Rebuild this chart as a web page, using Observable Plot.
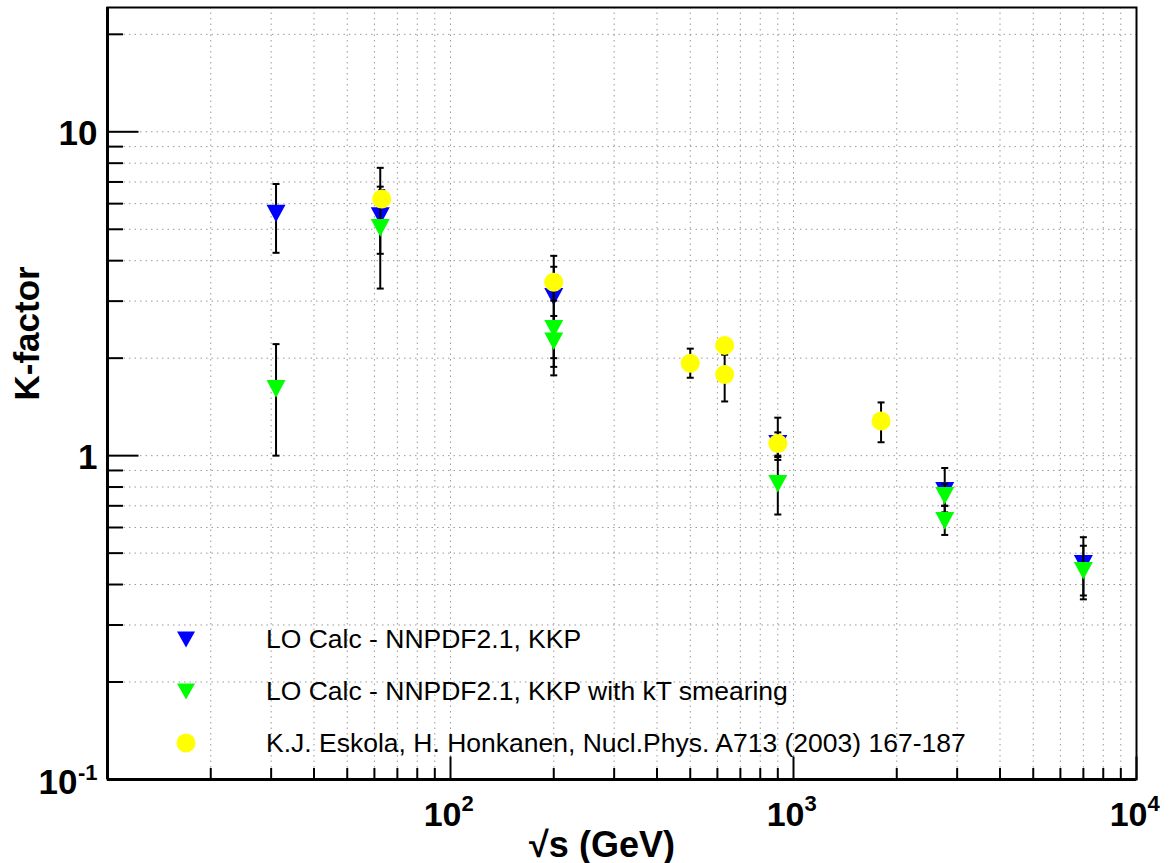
<!DOCTYPE html>
<html><head><meta charset="utf-8">
<script src="https://cdn.jsdelivr.net/npm/d3@7"></script>
<script src="https://cdn.jsdelivr.net/npm/@observablehq/plot@0.6"></script>
<style>
body{margin:0;background:#fff;}
#wrap{position:relative;width:1174px;height:863px;}
.row{position:absolute;display:flex;align-items:center;white-space:nowrap;font-family:"Liberation Sans",Arial,sans-serif;font-size:26.5px;color:#000;height:30px;}
.row svg{flex:none}
</style></head>
<body><div id="wrap"></div>
<script>
// ---- data ----
// LO Calc - NNPDF2.1, KKP
const blueX  = [31, 62.4, 200, 900, 2760, 7000];
const blueK  = [5.6, 5.5, 3.1, 1.09, 0.78, 0.464];
const blueLo = [4.23, 4.2, 2.0, 0.97, 0.668, 0.37];
const blueHi = [6.9, 6.77, 4.14, 1.31, 0.916, 0.56];
// LO Calc - NNPDF2.1, KKP with kT smearing
const greenX  = [31, 62.4, 200, 200, 900, 2760, 2760, 7000];
const greenK  = [1.61, 5.06, 2.47, 2.26, 0.82, 0.753, 0.63, 0.442];
const greenLo = [1.0, 3.28, 1.88, 1.77, 0.658, 0.70, 0.569, 0.36];
const greenHi = [2.21, 7.74, 3.83, 2.7, 0.99, 0.818, 0.70, 0.527];
// K.J. Eskola, H. Honkanen
const yellowX  = [63, 200, 500, 630, 630, 900, 1800];
const yellowK  = [6.2, 3.43, 1.93, 2.19, 1.78, 1.09, 1.28];
const yellowLo = [5.9, 3.01, 1.74, 2.1, 1.47, 1.0, 1.10];
const yellowHi = [6.6, 3.4, 2.14, 2.28, 2.05, 1.18, 1.46];

const seriesNames = [
  "LO Calc - NNPDF2.1, KKP",
  "LO Calc - NNPDF2.1, KKP with kT smearing",
  "K.J. Eskola, H. Honkanen, Nucl.Phys. A713 (2003) 167-187"
];
const seriesColors = ["#0000ff", "#00ff00", "#ffff00"];

// axes
const xDomain = [10, 10000];
const yDomain = [0.1, 24.2];
const xMajor = [100, 1000, 10000];
const xMajorBase = ["10", "10", "10"];
const xMajorExp = ["2", "3", "4"];
const xMinor = [20,30,40,50,60,70,80,90,200,300,400,500,600,700,800,900,2000,3000,4000,5000,6000,7000,8000,9000];
const yMajor = [0.1, 1, 10];
const yMajorBase = ["10", "1", "10"];
const yMajorExp = ["-1", "", ""];
const yMinor = [0.2,0.3,0.4,0.5,0.6,0.7,0.8,0.9,2,3,4,5,6,7,8,9,20];
const xTitle = "√s (GeV)";
const yTitle = "K-factor";

// ---- helpers ----
const rows = (X, K, Lo, Hi) => X.map((x, i) => ({x, k: K[i], lo: Lo[i], hi: Hi[i]}));
const blue = rows(blueX, blueK, blueLo, blueHi);
const green = rows(greenX, greenK, greenLo, greenHi);
const yellow = rows(yellowX, yellowK, yellowLo, yellowHi);

const invTriangle = {draw(ctx, size) {
  const r = Math.sqrt(size / Math.PI);
  ctx.moveTo(-r, -r * 0.9); ctx.lineTo(r, -r * 0.9); ctx.lineTo(0, r * 0.95); ctx.closePath();
}};
const seg = (dx, dy, ox = 0, oy = 0) => ({draw(ctx) { ctx.moveTo(ox, oy); ctx.lineTo(ox + dx, oy + dy); }});
const capSym = {draw(ctx) { ctx.moveTo(-3.5, 0); ctx.lineTo(3.5, 0); }};

const font = "Liberation Sans, Arial, Helvetica, sans-serif";

function seriesMarks(data, color, symbol, r) {
  return [
    Plot.ruleX(data, {x: "x", y1: "lo", y2: "hi", stroke: "black", strokeWidth: 2}),
    Plot.dot(data, {x: "x", y: "lo", symbol: capSym, r: 3, stroke: "black", strokeWidth: 2}),
    Plot.dot(data, {x: "x", y: "hi", symbol: capSym, r: 3, stroke: "black", strokeWidth: 2}),
    Plot.dot(data, {x: "x", y: "k", symbol, r, fill: color, stroke: "none"})
  ];
}

const grid = {stroke: "#9a9a9a", strokeOpacity: 1, strokeWidth: 1, strokeDasharray: "1.5,4"};

const chart = Plot.plot({
  width: 1174, height: 863,
  marginLeft: 107, marginRight: 38, marginTop: 7, marginBottom: 84,
  x: {type: "log", domain: xDomain, axis: null},
  y: {type: "log", domain: yDomain, axis: null},
  style: {fontFamily: font, background: "white", overflow: "visible"},
  marks: [
    Plot.ruleX(xMinor.concat(xMajor), grid),
    Plot.ruleY(yMinor.concat(yMajor), grid),
    Plot.frame({stroke: "black", strokeWidth: 2}),
    Plot.ruleX([xDomain[0]], {stroke: "black", strokeWidth: 3}),
    Plot.ruleY([yDomain[0]], {stroke: "black", strokeWidth: 3}),
    // ticks (inward)
    Plot.dot(xMinor, {x: d => d, frameAnchor: "bottom", symbol: seg(0, -11.5), r: 3, stroke: "black", strokeWidth: 2}),
    Plot.dot(xMajor, {x: d => d, frameAnchor: "bottom", symbol: seg(0, -23), r: 3, stroke: "black", strokeWidth: 2}),
    Plot.dot(yMinor, {y: d => d, frameAnchor: "left", symbol: seg(15.5, 0), r: 3, stroke: "black", strokeWidth: 2}),
    Plot.dot(yMajor, {y: d => d, frameAnchor: "left", symbol: seg(31, 0), r: 3, stroke: "black", strokeWidth: 2}),
    // series
    ...seriesMarks(blue, seriesColors[0], invTriangle, 9.5),
    ...seriesMarks(green, seriesColors[1], invTriangle, 9.5),
    ...seriesMarks(yellow, seriesColors[2], "circle", 9.5),
    // x tick labels
    Plot.text(xMajor, {x: d => d, frameAnchor: "bottom", dy: 36, dx: 11, textAnchor: "end", lineAnchor: "middle",
      text: (d, i) => xMajorBase[i], fontSize: 34, fontWeight: "bold", fill: "black"}),
    Plot.text(xMajor, {x: d => d, frameAnchor: "bottom", dy: 24, dx: 11, textAnchor: "start", lineAnchor: "middle",
      text: (d, i) => xMajorExp[i], fontSize: 22, fontWeight: "bold", fill: "black"}),
    // y tick labels
    Plot.text(yMajor, {y: d => d, frameAnchor: "left", dx: -10, dy: 2, textAnchor: "end", lineAnchor: "middle",
      filter: (d) => yMajorExp[yMajor.indexOf(d)] === "",
      text: (d) => yMajorBase[yMajor.indexOf(d)], fontSize: 35, fontWeight: "bold", fill: "black"}),
    Plot.text(yMajor, {y: d => d, frameAnchor: "left", dx: -30, dy: 3, textAnchor: "end", lineAnchor: "middle",
      filter: (d) => yMajorExp[yMajor.indexOf(d)] !== "",
      text: (d) => yMajorBase[yMajor.indexOf(d)], fontSize: 35, fontWeight: "bold", fill: "black"}),
    Plot.text(yMajor, {y: d => d, frameAnchor: "left", dx: -10, dy: -7, textAnchor: "end", lineAnchor: "middle",
      filter: (d) => yMajorExp[yMajor.indexOf(d)] !== "",
      text: (d) => yMajorExp[yMajor.indexOf(d)], fontSize: 22, fontWeight: "bold", fill: "black"}),
    // axis titles
    Plot.text([xTitle], {frameAnchor: "bottom", dy: 66, dx: -20, text: d => d, lineAnchor: "middle",
      fontSize: 36, fontWeight: "bold", fill: "black"}),
    Plot.text([yTitle], {frameAnchor: "left", dx: -80, dy: 7, rotate: -90, text: d => d, lineAnchor: "middle",
      fontSize: 35, fontWeight: "bold", fill: "black"})
  ]
});

const wrap = document.getElementById("wrap");
wrap.appendChild(chart);

// legend overlay (no box, like the reference)
const legendTops = [624, 676, 728];
seriesNames.forEach((name, i) => {
  const row = document.createElement("div");
  row.className = "row";
  row.style.left = "171px";
  row.style.top = legendTops[i] + "px";
  const marker = i < 2
    ? `<polygon points="6,7.5 24,7.5 15,23.5" fill="${seriesColors[i]}"/>`
    : `<circle cx="15" cy="15" r="9.5" fill="${seriesColors[i]}"/>`;
  row.innerHTML = `<svg width="30" height="30">${marker}</svg><span style="margin-left:65px">${name}</span>`;
  wrap.appendChild(row);
});
</script>
</body></html>
